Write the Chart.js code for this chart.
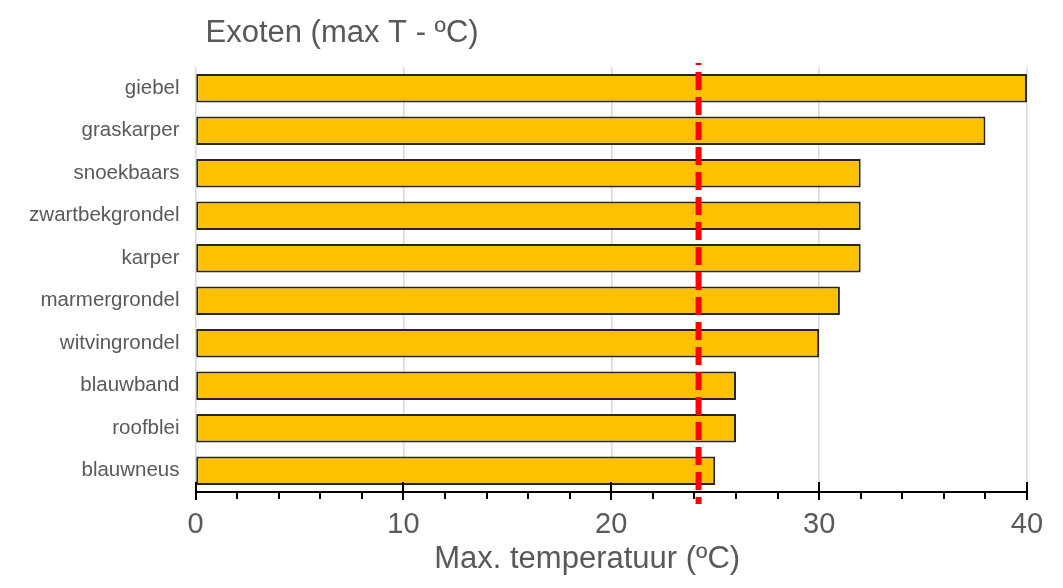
<!DOCTYPE html>
<html>
<head>
<meta charset="utf-8">
<script src="https://cdn.jsdelivr.net/npm/chart.js@4.4.1/dist/chart.umd.min.js"></script>
<style>
  html, body { margin: 0; padding: 0; background: #ffffff; }
  #wrap { width: 1063px; height: 588px; position: relative; }
</style>
</head>
<body>
<div id="wrap"><canvas id="c" width="1063" height="588"></canvas></div>
<script>
// ---- data ----
const categories = ['giebel', 'graskarper', 'snoekbaars', 'zwartbekgrondel', 'karper',
                    'marmergrondel', 'witvingrondel', 'blauwband', 'roofblei', 'blauwneus'];
const maxTemp = [40, 38, 32, 32, 32, 31, 30, 26, 26, 25];
const thresholdValue = 24.2;
const chartTitle = 'Exoten (max T - ºC)';
const axisTitle = 'Max. temperatuur (ºC)';
const xMin = 0, xMax = 40, majorStep = 10, minorStep = 2;

const FONT = "'Liberation Sans', Arial, sans-serif";
const GREY_TEXT = '#595959';

const extrasPlugin = {
  id: 'extras',
  afterDatasetsDraw(chart) {
    const ctx = chart.ctx;
    const xs = chart.scales.x;
    const area = chart.chartArea;
    ctx.save();
    // tick marks
    ctx.strokeStyle = '#000000';
    ctx.lineWidth = 2;
    for (let v = xMin; v <= xMax + 1e-9; v += minorStep) {
      const px = Math.round(xs.getPixelForValue(v));
      const major = Math.abs(v % majorStep) < 1e-9;
      ctx.beginPath();
      ctx.moveTo(px, major ? area.bottom - 10 : area.bottom);
      ctx.lineTo(px, area.bottom + (major ? 8 : 7));
      ctx.stroke();
    }
    // red dashed threshold line
    const tx = xs.getPixelForValue(thresholdValue);
    ctx.strokeStyle = '#FF0000';
    ctx.lineWidth = 6;
    ctx.setLineDash([18, 7]);
    ctx.lineDashOffset = 16;
    ctx.beginPath();
    ctx.moveTo(tx, area.top - 4);
    ctx.lineTo(tx, area.bottom + 12);
    ctx.stroke();
    ctx.restore();
  },
  afterDraw(chart) {
    const ctx = chart.ctx;
    const area = chart.chartArea;
    ctx.save();
    ctx.fillStyle = GREY_TEXT;
    ctx.textBaseline = 'alphabetic';
    // chart title
    ctx.font = '31px ' + FONT;
    ctx.textAlign = 'left';
    ctx.fillText(chartTitle, area.left + 10, 42);
    // axis title
    ctx.font = '31px ' + FONT;
    ctx.textAlign = 'center';
    ctx.fillText(axisTitle, area.left + (area.right - area.left) * 0.471, 568);
    ctx.restore();
  }
};

new Chart(document.getElementById('c'), {
  type: 'bar',
  data: {
    labels: categories,
    datasets: [{
      data: maxTemp,
      backgroundColor: '#FFC000',
      borderColor: '#262626',
      borderWidth: 2,
      borderSkipped: false,
      barPercentage: 0.67,
      categoryPercentage: 1.0
    }]
  },
  options: {
    indexAxis: 'y',
    responsive: false,
    animation: false,
    devicePixelRatio: 1,
    layout: { padding: { top: 67, right: 36, bottom: 0, left: 0 } },
    plugins: {
      legend: { display: false },
      title: { display: false },
      tooltip: { enabled: false }
    },
    scales: {
      x: {
        min: xMin,
        max: xMax,
        afterFit(scale) { scale.height = 96; },
        border: { display: true, color: '#000000', width: 2 },
        grid: {
          drawTicks: false,
          lineWidth: 1.5,
          color: (c) => (c.tick && Math.abs(c.tick.value % majorStep) < 1e-9) ? '#d9d9d9' : 'rgba(0,0,0,0)'
        },
        ticks: {
          stepSize: minorStep,
          autoSkip: false,
          maxRotation: 0,
          padding: 16,
          color: GREY_TEXT,
          font: { family: FONT, size: 29 },
          callback: (v) => (Math.abs(v % majorStep) < 1e-9 ? String(v) : '')
        },
        title: { display: false }
      },
      y: {
        afterFit(scale) { scale.width = 195.5; },
        border: { display: false },
        grid: { display: false, drawTicks: false },
        ticks: {
          padding: 16,
          color: GREY_TEXT,
          font: { family: FONT, size: 20.5 }
        }
      }
    }
  },
  plugins: [extrasPlugin]
});
</script>
</body>
</html>
